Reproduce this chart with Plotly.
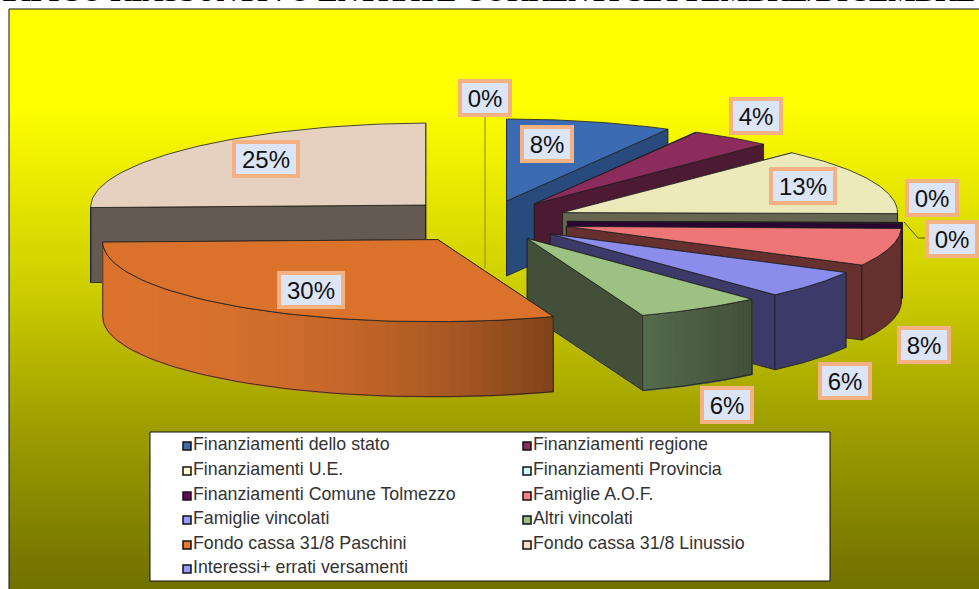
import math
import plotly.graph_objects as go

# ---- data ----
categories = ["Finanziamenti dello stato", "Finanziamenti regione", "Finanziamenti U.E.",
              "Finanziamenti Provincia", "Finanziamenti Comune Tolmezzo", "Famiglie A.O.F.",
              "Famiglie vincolati", "Altri vincolati", "Fondo cassa 31/8 Paschini",
              "Fondo cassa 31/8 Linussio", "Interessi+ errati versamenti"]
values = [8.0, 4.0, 13.2, 0.0, 0.2, 7.4, 5.5, 6.1, 30.5, 25.1, 0.0]
explosion = [0.235, 0.24, 0.245, 0.24, 0.24, 0.245, 0.24, 0.232, 0.258, 0.258, 0.24]
top_colors = ["#3d6bb3", "#8b2c5c", "#ece9bb", "#ccffff", "#4b0a52", "#ef7676",
              "#8c8cec", "#9dc183", "#da722c", "#e6d0c0", "#9999ff"]
side_colors = ["#294a7d", "#4c1a33", "#66654f", "#667f7f", "#2a0433", "#66302f",
               "#3c3a68", "#42503a", "#8a4a1c", "#655a52", "#3c3a68"]
legend_colors = ["#3d6bb3", "#8b2c5c", "#ffffcc", "#ccffff", "#660066", "#ff8080",
                 "#9999ff", "#9dc183", "#e87b2b", "#f5dcc8", "#9999ff"]
pct_labels = ["8%", "4%", "13%", "0%", "0%", "8%", "6%", "6%", "30%", "25%", "0%"]
label_x = [547, 756, 803, 932, 952, 924, 845, 727, 311, 266, 485]
label_y = [144, 116, 186, 198, 239, 345, 381, 405, 290, 159, 98]
title_text = "GRAFICO RIASSUNTIVO ENTRATE CORRENTI SETTEMBRE/DICEMBRE"

# ---- geometry of the pie (pixel-like axes) ----
W, H = 979, 589
CX, CY, RX, RY, DEPTH = 487, 221, 335, 82, 75
FRAME_L, FRAME_T = 9, 9
LEG = (150, 432, 830, 581)
gradient_stops = [(0, 0xff), (100, 0xff), (290, 0xcc), (420, 0x9f), (580, 0x72)]


def pt(ax, ay, deg):
    t = math.radians(deg)
    tilt = 2 * max(0.0, -math.sin(t))
    return ax + RX * math.sin(t), ay - RY * math.cos(t) + tilt


def arc(ax, ay, a, b, n=60):
    return [pt(ax, ay, a + (b - a) * i / n) for i in range(n + 1)]


def hexmix(c1, c2, f):
    a = [int(c1[i:i + 2], 16) for i in (1, 3, 5)]
    b = [int(c2[i:i + 2], 16) for i in (1, 3, 5)]
    return "#%02x%02x%02x" % tuple(round(x + (y - x) * f) for x, y in zip(a, b))


fig = go.Figure()

# background gradient
ys = list(range(FRAME_T, H + 1, 4))
def grad(y):
    for (y0, v0), (y1, v1) in zip(gradient_stops, gradient_stops[1:]):
        if y <= y1:
            return v0 + (v1 - v0) * (y - y0) / (y1 - y0)
    return gradient_stops[-1][1]
fig.add_trace(go.Heatmap(x=[FRAME_L, W + 2], y=ys, z=[[grad(y)] for y in ys[:-1]],
                         zmin=0, zmax=255, showscale=False, hoverinfo="skip",
                         colorscale=[[0, "#000000"], [1, "#ffff00"]]))


def poly(points, fill, line="#1e1e1e", width=0.8):
    xs = [p[0] for p in points] + [points[0][0]]
    yy = [p[1] for p in points] + [points[0][1]]
    fig.add_trace(go.Scatter(x=xs, y=yy, mode="lines", fill="toself", fillcolor=fill,
                             line=dict(color=line if width else fill, width=width or 1.6),
                             hoverinfo="skip", showlegend=False))


def polyline(xs, yy, color, width=1.0):
    fig.add_trace(go.Scatter(x=xs, y=yy, mode="lines", line=dict(color=color, width=width),
                             hoverinfo="skip", showlegend=False))


# slices: angles accumulate clockwise from twelve o'clock
total = sum(values)
angles, acc = [], 0.0
for v in values:
    angles.append((acc, acc + v / total * 360))
    acc += v / total * 360

gradients = {8: ("#da722e", "#7f431a"), 7: ("#566b4d", "#42503a")}
order = [9, 10, 0, 1, 2, 3, 4, 5, 6, 7, 8]

polyline([label_x[10], label_x[10]], [label_y[10] + 18, 268], "#9a9a00", 1.2)
polyline([904, 918, 927], [222, 238, 238], "#555500", 1.0)

for i in order:
    a, b = angles[i]
    if values[i] <= 0:
        continue
    mid = math.radians((a + b) / 2)
    ax = CX + explosion[i] * RX * math.sin(mid)
    ay = CY - explosion[i] * RY * 1.07 * math.cos(mid)
    for deg in (a, b):
        p = pt(ax, ay, deg)
        poly([(ax, ay), p, (p[0], p[1] + DEPTH), (ax, ay + DEPTH)], side_colors[i])
    w0, w1 = max(a, 90), min(b, 270)
    if w1 > w0:
        top_arc = arc(ax, ay, w0, w1)
        wall = top_arc + [(x, y + DEPTH) for x, y in reversed(top_arc)]
        if i in gradients:
            xmin = min(p[0] for p in top_arc)
            xmax = max(p[0] for p in top_arc)
            for j in range(len(top_arc) - 1):
                p, q = top_arc[j], top_arc[j + 1]
                f = ((p[0] + q[0]) / 2 - xmin) / (xmax - xmin)
                if i == 8:
                    f = f ** 2.2
                c = hexmix(gradients[i][0], gradients[i][1], f)
                poly([p, q, (q[0], q[1] + DEPTH), (p[0], p[1] + DEPTH)], c, width=0)
            xs = [p[0] for p in wall] + [wall[0][0]]
            yy = [p[1] for p in wall] + [wall[0][1]]
            polyline(xs, yy, "#1e1e1e", 0.8)
        else:
            poly(wall, side_colors[i])
    poly([(ax, ay)] + arc(ax, ay, a, b), top_colors[i])

# legend box
x0, y0, x1, y1 = LEG
poly([(x0, y0), (x1, y0), (x1, y1), (x0, y1)], "#ffffff", "#111111", 1.0)
legend_rows = [446, 471, 496, 520, 545, 569]
legend_cols = [187, 527]
for k, name in enumerate(categories):
    fig.add_trace(go.Scatter(x=[legend_cols[k % 2]], y=[legend_rows[k // 2]],
                             mode="markers+text", text=[name], textposition="middle right",
                             textfont=dict(family="Liberation Sans", size=17.8, color="#333333"),
                             marker=dict(symbol="square", size=8, color=legend_colors[k],
                                         line=dict(color="#111111", width=1.5)),
                             name=name, hoverinfo="name", showlegend=False))

annotations = []
for t, x, y in zip(pct_labels, label_x, label_y):
    annotations.append(dict(x=x, y=y, text=t, showarrow=False, xref="x", yref="y",
                            xanchor="center", yanchor="middle",
                            font=dict(family="Liberation Sans", size=24, color="#111111"),
                            bgcolor="#dbe5f5", bordercolor="#f4b183", borderwidth=4, borderpad=1,
                            width=44 if len(t) == 2 else 58, height=28))
annotations.append(dict(x=1, y=1, text="<b>%s</b>" % title_text, showarrow=False,
                        xanchor="right", yanchor="middle", xref="paper", yref="paper",
                        xshift=-2, yshift=9.5,
                        font=dict(family="Liberation Serif", size=29, color="#000000")))

shapes = [dict(type="line", x0=FRAME_L, x1=FRAME_L, y0=FRAME_T, y1=H, line=dict(color="#111", width=1)),
          dict(type="line", x0=FRAME_L, x1=W, y0=FRAME_T, y1=FRAME_T, line=dict(color="#111", width=1))]

fig.update_layout(width=W, height=H, margin=dict(l=0, r=0, t=0, b=0),
                  paper_bgcolor="#ffffff", plot_bgcolor="#ffffff", showlegend=False,
                  xaxis=dict(range=[0, W], visible=False, fixedrange=True),
                  yaxis=dict(range=[H, 0], visible=False, fixedrange=True),
                  annotations=annotations, shapes=shapes)
fig.write_html("out.html", post_script="document.body.style.margin='0';document.body.style.overflow='hidden';",
               config=dict(displayModeBar=False))
